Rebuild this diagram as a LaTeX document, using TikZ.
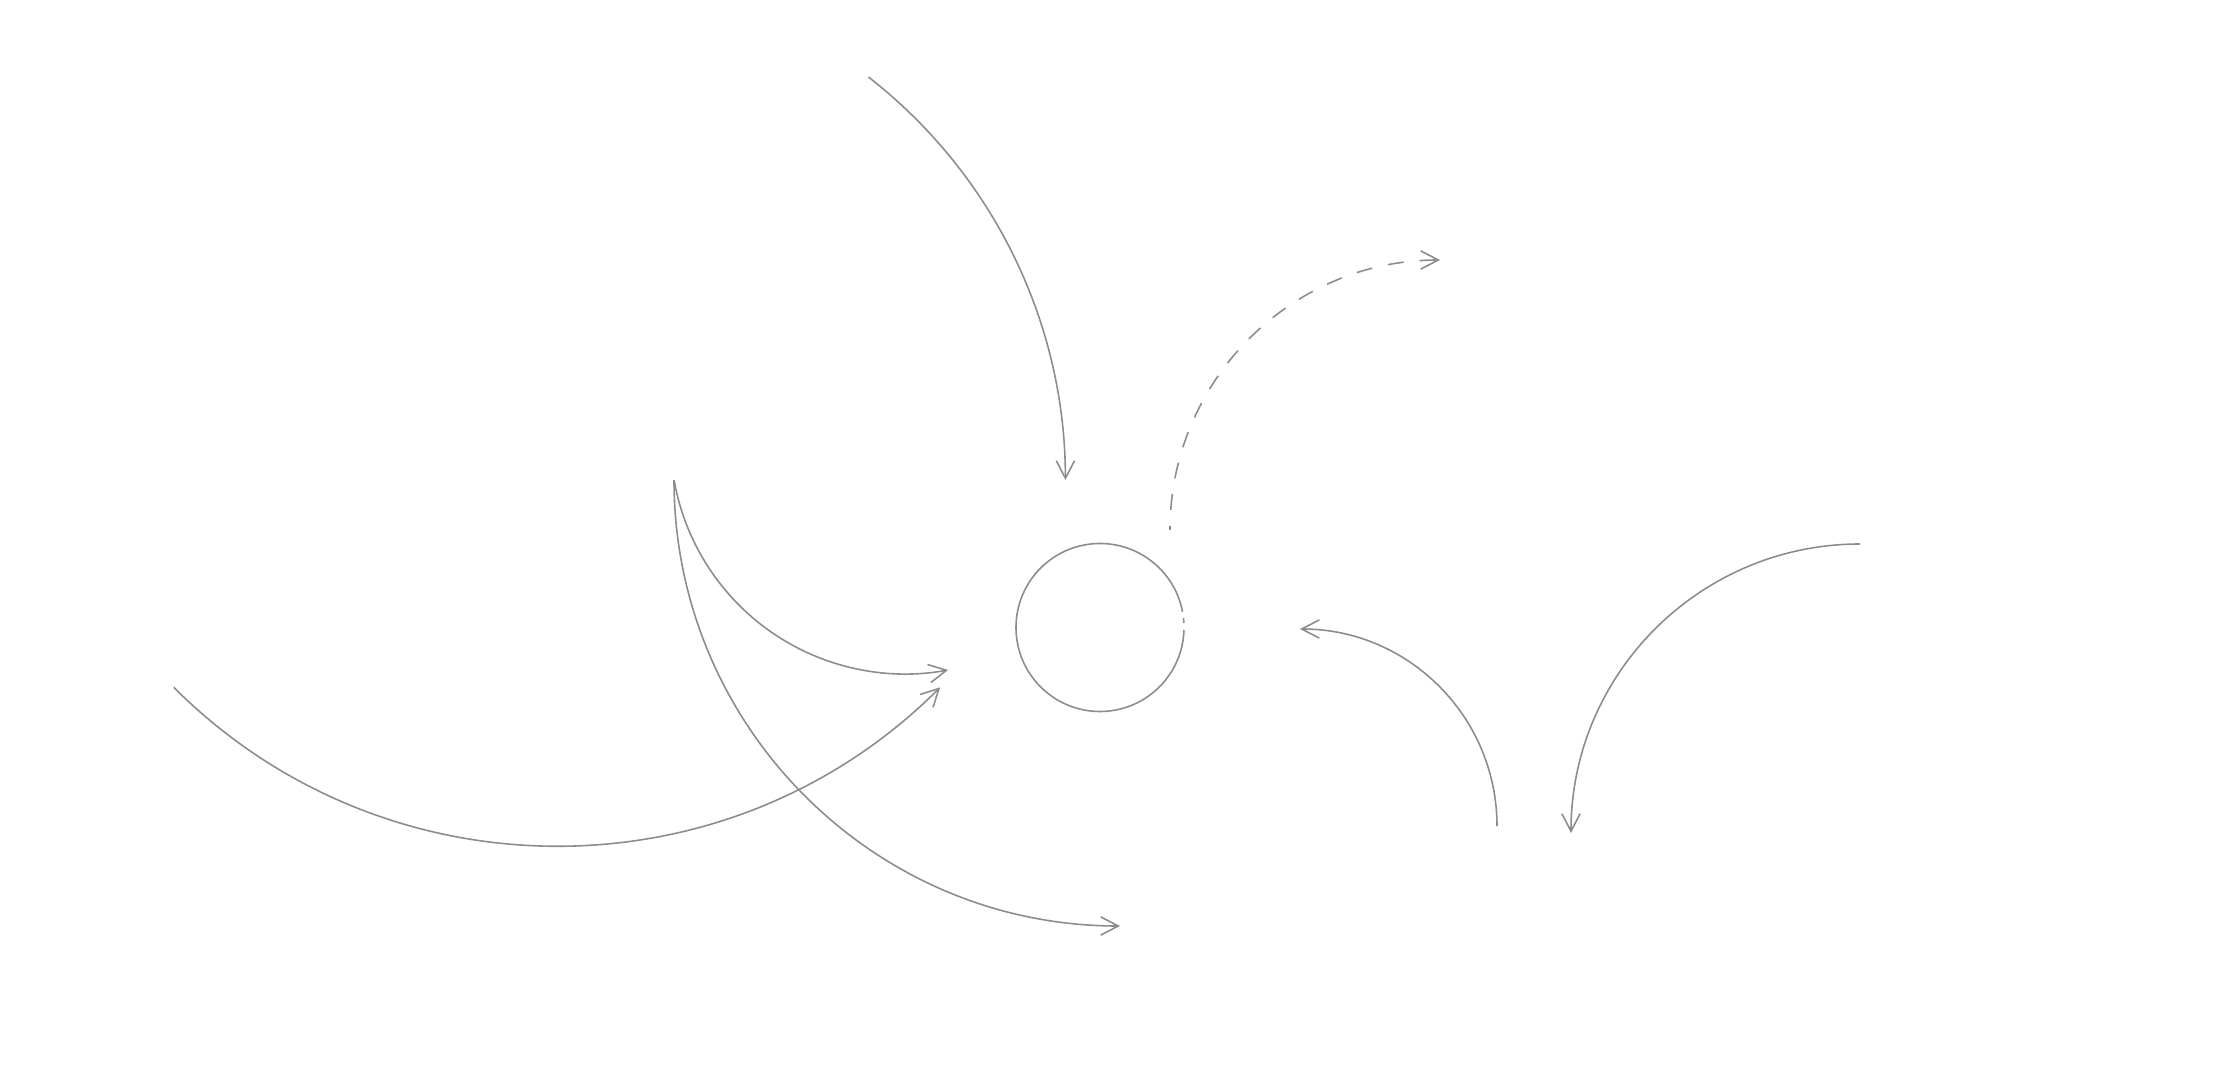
\documentclass[tikz,border=0pt]{standalone}
\usetikzlibrary{arrows.meta}
\begin{document}
\begin{tikzpicture}[x=0.01cm,y=0.01cm,
  curve/.style={draw=black!45, line width=0.45pt},
  tip/.style={-{Straight Barb[length=5pt,width=5.2pt]}},
  dashline/.style={dash pattern=on 4.55pt off 4.55pt, dash phase=3.4pt}]
\useasboundingbox (0,0) rectangle (2220,1078);
% hub circle
\coordinate (hubc) at (1100,450.5);
\draw[curve] (hubc) ++(10.8:84) arc[start angle=10.8, end angle=358.3, radius=84];
\draw[curve] (hubc) ++(3.1:84) arc[start angle=3.1, end angle=6.5, radius=84];
% arcs
\coordinate (a1) at (868.4,1001);
\draw[curve,tip] (a1) arc[start angle=52.1, end angle=0, radius=510.7];
\coordinate (a2) at (674.1,597.8);
\draw[curve,tip] (a2) arc[start angle=190, end angle=280.6, radius=234.5];
\coordinate (a3) at (674,598);
\draw[curve,tip] (a3) arc[start angle=180, end angle=270, radius=446];
\coordinate (a4) at (173.7,390.7);
\draw[curve,tip] (a4) arc[start angle=225, end angle=315, radius=542];
\coordinate (a5) at (1497,252);
\draw[curve,tip] (a5) arc[start angle=0, end angle=90, radius=197];
\coordinate (a6) at (1860,534);
\draw[curve,tip] (a6) arc[start angle=90, end angle=180, radius=289];
\coordinate (a7) at (1170,548);
\draw[curve,tip,dashline] (a7) arc[start angle=180, end angle=90, radius=270];
\end{tikzpicture}
\end{document}
